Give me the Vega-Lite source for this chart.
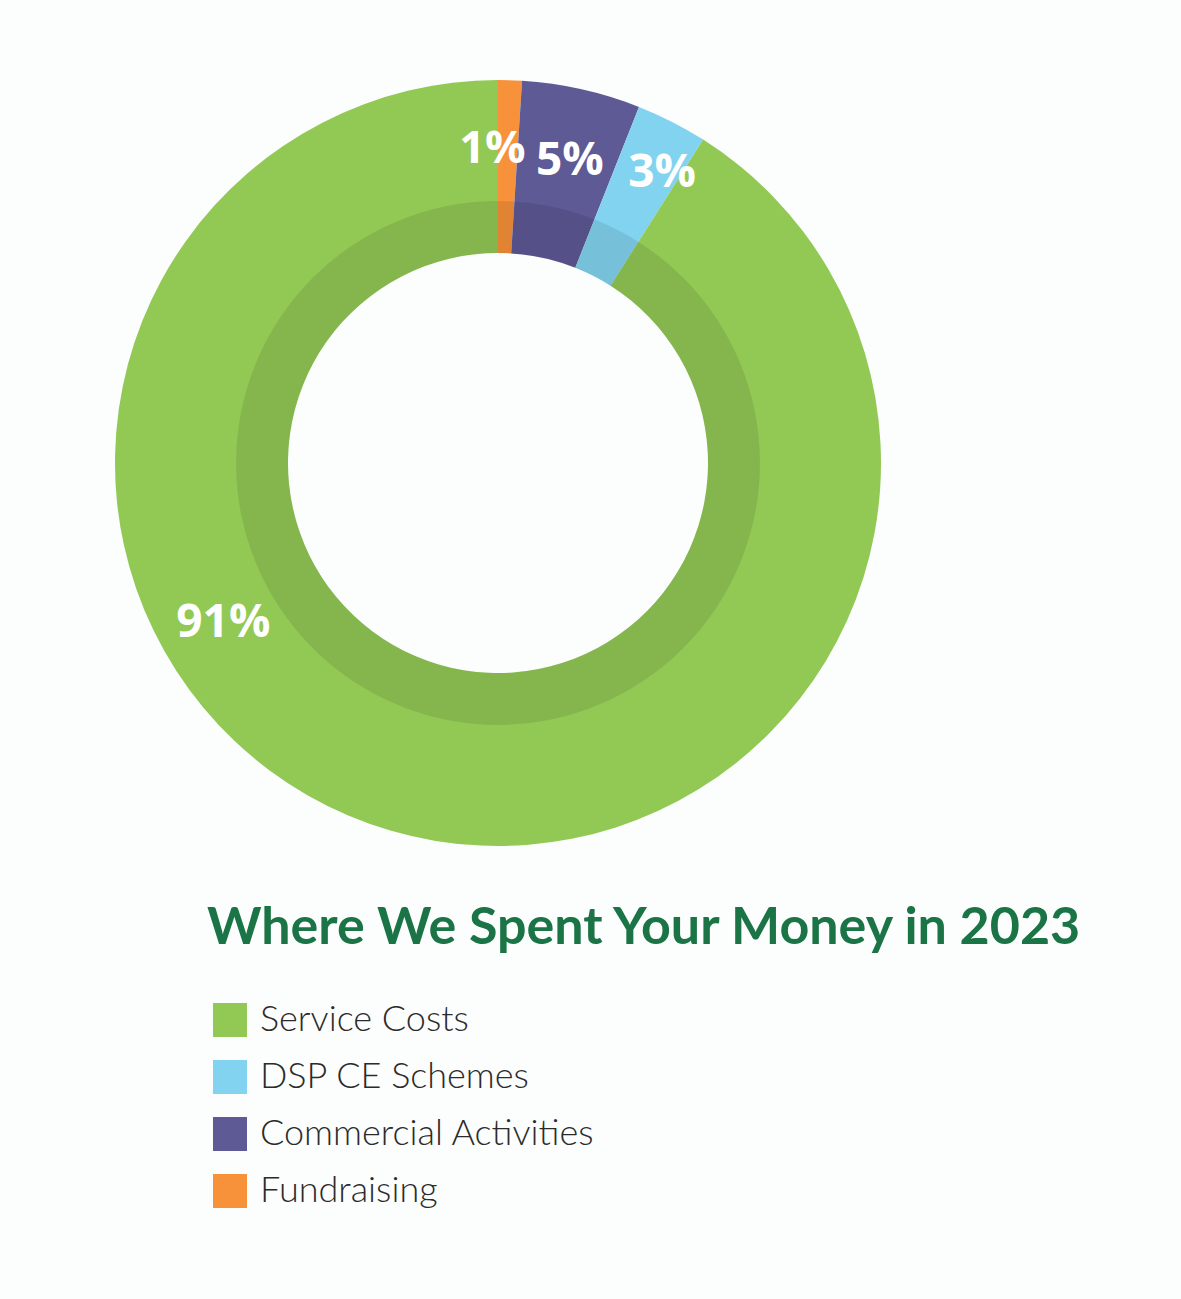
{
  "$schema": "https://vega.github.io/schema/vega-lite/v6.json",
  "width": 996,
  "height": 926,
  "autosize": {"type": "none"},
  "padding": {"left": 0, "top": 0, "right": 185, "bottom": 373},
  "background": "#fcfdfd",
  "config": {"view": {"stroke": null}},
  "data": {
    "values": [
      {"category": "Fundraising", "share": 1, "seq": 1, "label": "1%"},
      {"category": "Commercial Activities", "share": 5, "seq": 2, "label": "5%"},
      {"category": "DSP CE Schemes", "share": 3, "seq": 3, "label": "3%"},
      {"category": "Service Costs", "share": 91, "seq": 4, "label": "91%"}
    ]
  },
  "resolve": {"scale": {"theta": "independent"}},
  "layer": [
    {
      "mark": {"type": "arc", "innerRadius": 210, "outerRadius": 383},
      "encoding": {
        "theta": {"field": "share", "type": "quantitative", "stack": true},
        "order": {"field": "seq", "type": "quantitative"},
        "color": {
          "field": "category",
          "type": "nominal",
          "scale": {
            "domain": ["Service Costs", "DSP CE Schemes", "Commercial Activities", "Fundraising"],
            "range": ["#92c955", "#82d3f0", "#5e5a96", "#f7923a"]
          },
          "legend": {
            "orient": "none",
            "legendX": 207,
            "legendY": 903,
            "title": "Where We Spent Your Money in 2023",
            "titleFont": "Lato",
            "titleFontSize": 52,
            "titleFontWeight": "bold",
            "titleColor": "#1b7446",
            "titlePadding": 47,
            "titleLimit": 1000,
            "symbolType": "square",
            "symbolSize": 1156,
            "symbolStrokeWidth": 0,
            "symbolOpacity": 1,
            "symbolOffset": 5,
            "labelFont": "Lato",
            "labelFontSize": 36,
            "labelFontWeight": 300,
            "labelColor": "#2b2b2b",
            "labelOffset": 12,
            "labelLimit": 600,
            "rowPadding": 21,
            "padding": 0
          }
        }
      }
    },
    {
      "data": {"values": [{"one": 1}]},
      "mark": {"type": "arc", "innerRadius": 210, "outerRadius": 262, "color": "#000000", "opacity": 0.09},
      "encoding": {
        "theta": {"field": "one", "type": "quantitative", "stack": true}
      }
    },
    {
      "transform": [
        {"stack": "share", "groupby": [], "sort": [{"field": "seq", "order": "ascending"}], "as": ["s0", "s1"]},
        {"calculate": "(datum.s0 + datum.s1) / 2", "as": "mid"},
        {"filter": "datum.seq == 1"}
      ],
      "mark": {"type": "text", "radius": 314, "thetaOffset": -0.049, "font": "Open Sans", "fontWeight": "bold", "fontSize": 45, "color": "#ffffff"},
      "encoding": {
        "theta": {"field": "mid", "type": "quantitative", "stack": null, "scale": {"domain": [0, 100]}},
        "text": {"field": "label", "type": "nominal"}
      }
    },
    {
      "transform": [
        {"stack": "share", "groupby": [], "sort": [{"field": "seq", "order": "ascending"}], "as": ["s0", "s1"]},
        {"calculate": "(datum.s0 + datum.s1) / 2", "as": "mid"},
        {"filter": "datum.seq == 2"}
      ],
      "mark": {"type": "text", "radius": 310, "thetaOffset": 0.014, "font": "Open Sans", "fontWeight": "bold", "fontSize": 46, "color": "#ffffff"},
      "encoding": {
        "theta": {"field": "mid", "type": "quantitative", "stack": null, "scale": {"domain": [0, 100]}},
        "text": {"field": "label", "type": "nominal"}
      }
    },
    {
      "transform": [
        {"stack": "share", "groupby": [], "sort": [{"field": "seq", "order": "ascending"}], "as": ["s0", "s1"]},
        {"calculate": "(datum.s0 + datum.s1) / 2", "as": "mid"},
        {"filter": "datum.seq == 3"}
      ],
      "mark": {"type": "text", "radius": 333, "thetaOffset": 0.044, "font": "Open Sans", "fontWeight": "bold", "fontSize": 46, "color": "#ffffff"},
      "encoding": {
        "theta": {"field": "mid", "type": "quantitative", "stack": null, "scale": {"domain": [0, 100]}},
        "text": {"field": "label", "type": "nominal"}
      }
    },
    {
      "transform": [
        {"stack": "share", "groupby": [], "sort": [{"field": "seq", "order": "ascending"}], "as": ["s0", "s1"]},
        {"calculate": "(datum.s0 + datum.s1) / 2", "as": "mid"},
        {"filter": "datum.seq == 4"}
      ],
      "mark": {"type": "text", "radius": 318, "thetaOffset": 0.76, "font": "Open Sans", "fontWeight": "bold", "fontSize": 46, "color": "#ffffff"},
      "encoding": {
        "theta": {"field": "mid", "type": "quantitative", "stack": null, "scale": {"domain": [0, 100]}},
        "text": {"field": "label", "type": "nominal"}
      }
    }
  ]
}
